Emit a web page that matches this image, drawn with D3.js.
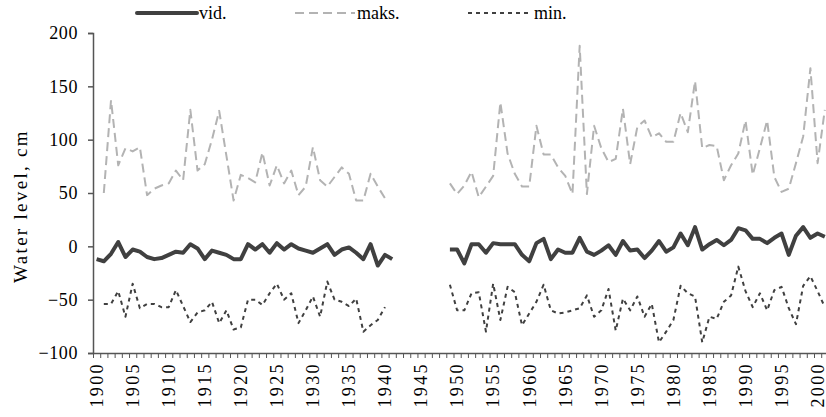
<!DOCTYPE html>
<html>
<head>
<meta charset="utf-8">
<script src="https://cdn.jsdelivr.net/npm/d3@7/dist/d3.min.js"></script>
<style>
  body { margin: 0; background: #fff; }
  svg text { font-family: "Liberation Serif", "Times New Roman", "DejaVu Serif", serif !important; fill: #000; }
</style>
</head>
<body>
<div class="chart"></div>
<script>
var width = 826;
var height = 417;
var serif = "'Liberation Serif', 'Times New Roman', serif";

// years 1900..2001, null where there is no record
var firstYear = 1900;
var lastYear = 2001;

var vid = [
  -12, -14, -7, 4, -10, -3, -5, -10, -12, -11,
  -8, -5, -6, 2, -2, -12, -4, -6, -8, -12,
  -12, 2, -3, 2, -6, 3, -3, 2, -2, -4,
  -6, -2, 2, -8, -3, -1, -6, -12, 2, -18,
  -8, -12,
  null, null, null, null, null, null, null,
  -3,
  -3, -16, 2, 2, -6, 3, 2, 2, 2, -8,
  -14, 3, 7, -12, -3, -6, -6, 8, -5, -8,
  -4, 1, -8, 5, -4, -3, -11, -4, 5, -5,
  -1, 12, 1, 18, -3, 2, 6, 1, 6, 17,
  15, 7, 7, 3, 8, 12, -8, 10, 18, 8,
  12, 9
];

var maks = [
  null,
  50, 137, 76, 92, 89, 93, 48, 54, 57, 59,
  71, 62, 128, 71, 77, 100, 127, 85, 43, 67,
  64, 60, 88, 57, 76, 59, 71, 48, 56, 93,
  62, 56, 65, 74, 68, 43, 43, 68, 56, 45,
  null, null, null, null, null, null, null, null,
  59, 49, 57, 70, 46, 56, 66, 135, 87, 68, 56,
  56, 113, 86, 86, 74, 66, 49, 188, 49, 113,
  92, 79, 82, 129, 77, 112, 118, 102, 106, 98,
  98, 125, 107, 155, 92, 95, 94, 62, 76, 87,
  118, 67, 92, 118, 65, 51, 54, 78, 103, 167,
  78, 128
];

var min = [
  null,
  -54, -54, -42, -66, -35, -58, -54, -54, -57, -57,
  -41, -56, -71, -62, -60, -52, -72, -60, -78, -76,
  -50, -50, -55, -44, -35, -50, -44, -72, -60, -47,
  -66, -33, -50, -52, -56, -49, -80, -74, -69, -57,
  null, null, null, null, null, null, null, null,
  -36, -60, -60, -44, -43, -80, -35, -69, -38, -43, -74,
  -63, -52, -36, -60, -63, -62, -60, -58, -46, -66,
  -60, -40, -79, -49, -60, -47, -66, -54, -90, -80,
  -69, -37, -44, -47, -90, -66, -68, -52, -46, -19,
  -42, -57, -44, -60, -41, -38, -58, -73, -37, -28,
  -42, -57
];

var yTicks = [-100, -50, 0, 50, 100, 150, 200];
var yearLabels = [1900, 1905, 1910, 1915, 1920, 1925, 1930, 1935, 1940, 1945,
  1950, 1955, 1960, 1965, 1970, 1975, 1980, 1985, 1990, 1995, 2000];

var years = d3.range(firstYear, lastYear + 1);

var plotLeft = 93, plotTop = 33, plotBottom = 353;

var x = d3.scaleLinear()
  .domain([firstYear - 0.5, lastYear + 1.5])
  .range([plotLeft, plotLeft + 103 * 7.21]);
var y = d3.scaleLinear().domain([-100, 200]).range([plotBottom, plotTop]);

var svg = d3.select(".chart").append("svg")
  .attr("width", width)
  .attr("height", height)
  .attr("font-family", serif);

svg.append("rect").attr("width", width).attr("height", height).attr("fill", "#fff");

// y axis
var yAxis = svg.append("g")
  .attr("transform", "translate(" + plotLeft + ",0)")
  .call(d3.axisLeft(y).tickValues(yTicks).tickSize(5).tickPadding(10).tickFormat(d3.format("d")));
yAxis.attr("font-family", serif).attr("font-size", 17);
yAxis.select(".domain").attr("stroke", "#555").attr("stroke-width", 1.5);
yAxis.selectAll(".tick line").attr("stroke", "#555").attr("stroke-width", 1.5);
yAxis.selectAll(".tick text")
  .attr("font-family", serif)
  .attr("font-size", "18px")
  .attr("fill", "#000")
  .style("letter-spacing", "0.6px");

// x axis with a tick between every year
var bounds = years.map(function(d) { return d - 0.5; }).concat([lastYear + 0.5, lastYear + 1.5]);
var xAxis = svg.append("g")
  .attr("transform", "translate(0," + plotBottom + ")")
  .call(d3.axisBottom(x).tickValues(bounds).tickSize(5).tickSizeOuter(0).tickFormat(""));
xAxis.select(".domain").attr("stroke", "#555").attr("stroke-width", 1.5);
xAxis.selectAll(".tick line").attr("stroke", "#555").attr("stroke-width", 1);

svg.append("g").selectAll("text")
  .data(yearLabels)
  .enter().append("text")
  .attr("transform", function(d) { return "translate(" + x(d) + "," + (plotBottom + 9) + ") rotate(-90)"; })
  .attr("dy", "0.35em")
  .attr("text-anchor", "end")
  .attr("font-family", serif)
  .attr("font-size", "18px")
  .style("letter-spacing", "2.4px")
  .text(function(d) { return d; });

// y title
svg.append("text")
  .attr("transform", "translate(27,206) rotate(-90)")
  .attr("text-anchor", "middle")
  .attr("font-family", serif)
  .attr("font-size", "19px")
  .style("letter-spacing", "2.3px")
  .text("Water level, cm");

function makeLine(values) {
  return d3.line()
    .defined(function(d, i) { return values[i] !== null; })
    .x(function(d, i) { return x(years[i]); })
    .y(function(d, i) { return y(values[i]); })(values);
}

var series = [
  { name: "maks.", values: maks, color: "#b3b3b3", width: 2, dash: "9,5" },
  { name: "min.", values: min, color: "#404040", width: 2, dash: "4,4" },
  { name: "vid.", values: vid, color: "#404040", width: 4, dash: null }
];

svg.append("g").selectAll("path")
  .data(series)
  .enter().append("path")
  .attr("d", function(d) { return makeLine(d.values); })
  .attr("fill", "none")
  .attr("stroke", function(d) { return d.color; })
  .attr("stroke-width", function(d) { return d.width; })
  .attr("stroke-dasharray", function(d) { return d.dash; })
  .attr("stroke-linejoin", "round");

// legend
var legend = [
  { s: series[2], x1: 137, x2: 197 },
  { s: series[0], x1: 295, x2: 355 },
  { s: series[1], x1: 468, x2: 532 }
];
var lg = svg.append("g");
legend.forEach(function(l) {
  lg.append("line")
    .attr("x1", l.x1).attr("x2", l.x2)
    .attr("y1", 13).attr("y2", 13)
    .attr("stroke", l.s.color)
    .attr("stroke-width", l.s.width)
    .attr("stroke-linecap", l.s.dash ? "butt" : "round")
    .attr("stroke-dasharray", l.s.dash);
  lg.append("text")
    .attr("x", l.x2 + 2)
    .attr("y", 19)
    .attr("font-family", serif)
    .attr("font-size", "18px")
    .text(l.s.name);
});
</script>
</body>
</html>
